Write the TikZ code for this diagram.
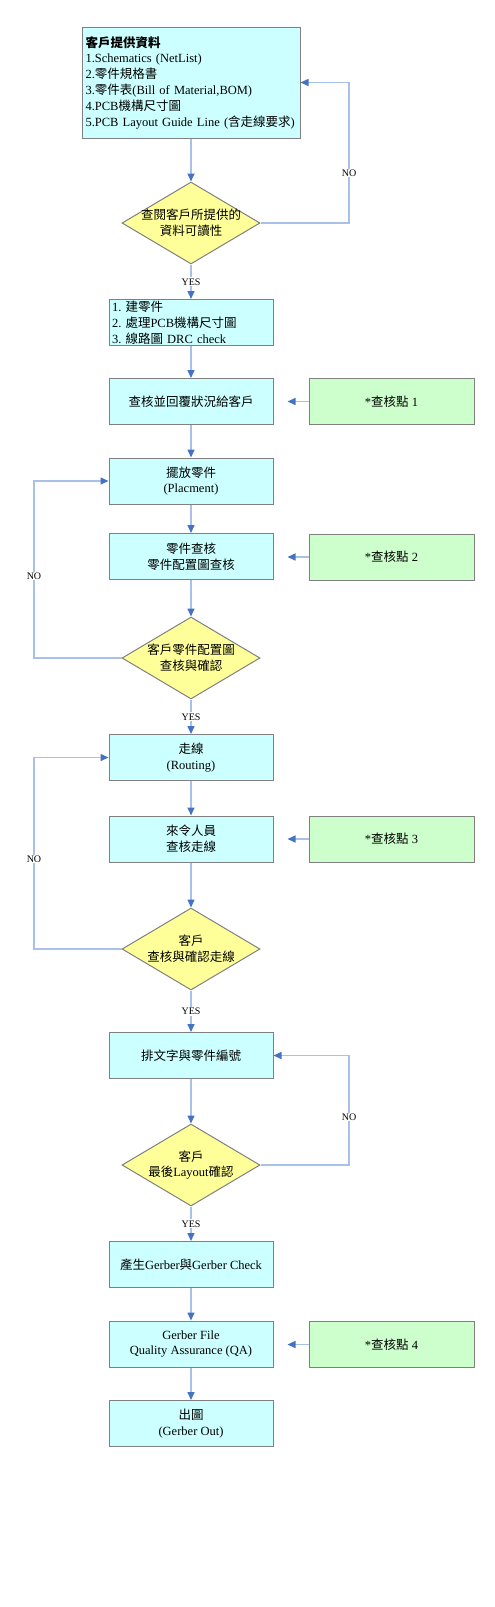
\documentclass[tikz,border=0pt]{standalone}
\usepackage{fontspec}
\setmainfont{Liberation Serif}
\newfontfamily\cjk{Noto Sans CJK TC}
\newcommand\zh[1]{{\cjk #1}}
\usetikzlibrary{arrows.meta,shapes.geometric}
\definecolor{boxcyan}{HTML}{CCFFFF}
\definecolor{boxgreen}{HTML}{CCFFCC}
\definecolor{boxyellow}{HTML}{FFFF99}
\definecolor{edgegray}{HTML}{808080}
\definecolor{linkblue}{HTML}{A9C1E8}
\definecolor{tipblue}{HTML}{4472C4}
\frenchspacing
\tikzset{
  every node/.style={font=\fontsize{12.5}{15.8}\selectfont},
  stepbox/.style={draw=edgegray, line width=1pt, fill=boxcyan, minimum width=164pt, minimum height=46pt, inner sep=2pt, align=center},
  checkbox/.style={draw=edgegray, line width=1pt, fill=boxgreen, minimum width=165pt, minimum height=46pt, align=center},
  decide/.style={diamond, draw=edgegray, line width=1pt, fill=boxyellow, minimum width=138pt, minimum height=82pt, inner sep=0pt},
  dtext/.style={align=center, inner sep=0pt},
  conn/.style={draw=linkblue, line width=1.5pt, -{Triangle[color=tipblue, length=8pt, width=7pt]}},
  lbl/.style={fill=white, inner sep=1pt, font=\fontsize{10}{12}\selectfont},
}
\begin{document}
\begin{tikzpicture}[x=1pt,y=-1pt]
\useasboundingbox[fill=white] (0,0) rectangle (495,1607);

% main column
\node[stepbox, minimum width=218pt, minimum height=111pt, text width=211pt, align=left] (b1) at (191,82.5)
  {{\bfseries\zh{客戶提供資料}}\\
   1.Schematics (NetList)\\
   2.\zh{零件規格書}\\
   3.\zh{零件表}(Bill of Material,BOM)\\
   4.PCB\zh{機構尺寸圖}\\
   5.PCB Layout Guide Line (\zh{含走線要求})};

\node[decide] (d1) at (191,223) {};
\node[dtext] (d1t) at (d1.center) {\zh{查閱客戶所提供的}\\\zh{資料可讀性}};

\node[stepbox, text width=158pt, align=left, inner ysep=0.5pt] (b2) at (191,322.5)
  {1. \zh{建零件}\\2. \zh{處理}PCB\zh{機構尺寸圖}\\3. \zh{線路圖} DRC check};

\node[stepbox] (b3) at (191,401.5) {\zh{查核並回覆狀況給客戶}};
\node[stepbox] (b4) at (191,481) {\zh{擺放零件}\\(Placment)};
\node[stepbox] (b5) at (191,556.5) {\zh{零件查核}\\\zh{零件配置圖查核}};

\node[decide] (d2) at (191,658) {};
\node[dtext] (d2t) at (d2.center) {\zh{客戶零件配置圖}\\\zh{查核與確認}};

\node[stepbox] (b6) at (191,757.5) {\zh{走線}\\(Routing)};
\node[stepbox] (b7) at (191,839) {\zh{來令人員}\\\zh{查核走線}};

\node[decide] (d3) at (191,949) {};
\node[dtext] (d3t) at (d3.center) {\zh{客戶}\\\zh{查核與確認走線}};

\node[stepbox] (b8) at (191,1055.5) {\zh{排文字與零件編號}};

\node[decide] (d4) at (191,1165) {};
\node[dtext] (d4t) at (d4.center) {\zh{客戶}\\\zh{最後}Layout\zh{確認}};

\node[stepbox] (b9) at (191,1264.5) {\zh{產生}Gerber\zh{與}Gerber Check};
\node[stepbox] (b10) at (191,1344) {Gerber File\\Quality Assurance (QA)};
\node[stepbox] (b11) at (191,1423.5) {\zh{出圖}\\(Gerber Out)};

% check points
\node[checkbox] (g1) at (391.5,401.5) {*\zh{查核點} 1};
\node[checkbox] (g2) at (391.5,557) {*\zh{查核點} 2};
\node[checkbox] (g3) at (391.5,839) {*\zh{查核點} 3};
\node[checkbox] (g4) at (391.5,1344.5) {*\zh{查核點} 4};

% loop corners
\coordinate (n1) at (349,223);
\coordinate (n2) at (34,658);
\coordinate (n3) at (34,949);
\coordinate (n4) at (349,1165);

% vertical flow
\draw[conn] (b1.south) -- (d1.north);
\draw[conn] (d1.south) -- node[lbl]{YES} (b2.north);
\draw[conn] (b2.south) -- (b3.north);
\draw[conn] (b3.south) -- (b4.north);
\draw[conn] (b4.south) -- (b5.north);
\draw[conn] (b5.south) -- (d2.north);
\draw[conn] (d2.south) -- node[lbl]{YES} (b6.north);
\draw[conn] (b6.south) -- (b7.north);
\draw[conn] (b7.south) -- (d3.north);
\draw[conn] (d3.south) -- node[lbl]{YES} (b8.north);
\draw[conn] (b8.south) -- (d4.north);
\draw[conn] (d4.south) -- node[lbl]{YES} (b9.north);
\draw[conn] (b9.south) -- (b10.north);
\draw[conn] (b10.south) -- (b11.north);

% NO loops
\draw[conn] (d1.east) -- (n1) |- node[lbl, pos=0.178]{NO} (b1.east);
\draw[conn] (d2.west) -- (n2) |- node[lbl, pos=0.232]{NO} (b4.west);
\draw[conn] (d3.west) -- (n3) |- node[lbl, pos=0.235]{NO} (b6.west);
\draw[conn] (d4.east) -- (n4) |- node[lbl, pos=0.219]{NO} (b8.east);

% check point arrows
\draw[conn, shorten >=14pt] (g1.west) -- (b3.east);
\draw[conn, shorten >=14pt] (g2.west) -- (b5.east |- g2.west);
\draw[conn, shorten >=14pt] (g3.west) -- (b7.east);
\draw[conn, shorten >=14pt] (g4.west) -- (b10.east |- g4.west);
\end{tikzpicture}
\end{document}
